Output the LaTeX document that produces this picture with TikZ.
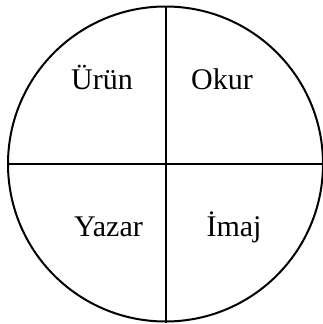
\documentclass[tikz,border=0pt]{standalone}
\usepackage{fontspec}
\setmainfont{Liberation Serif}
\begin{document}
\begin{tikzpicture}[x=1pt,y=-1pt,
  divline/.style={line width=2pt,black},
  lbl/.style={anchor=base,inner sep=0pt,font=\rmfamily\fontsize{30}{36}\selectfont}]
\useasboundingbox (0,0) rectangle (323,324);
\fill[white] (0,0) rectangle (323,324);
\node[circle,draw,line width=2pt,minimum size=315pt,inner sep=0pt] (c) at (165.5,164) {};
\draw[divline] (c.north) -- (c.south);
\draw[divline] (c.west) -- (c.east);
\node[lbl] (urun) at (102,89) {Ürün};
\node[lbl] (okur) at (222,89) {Okur};
\node[lbl] (yazar) at (108.5,236) {Yazar};
\node[lbl] (imaj) at (234,236) {İmaj};
\end{tikzpicture}
\end{document}
